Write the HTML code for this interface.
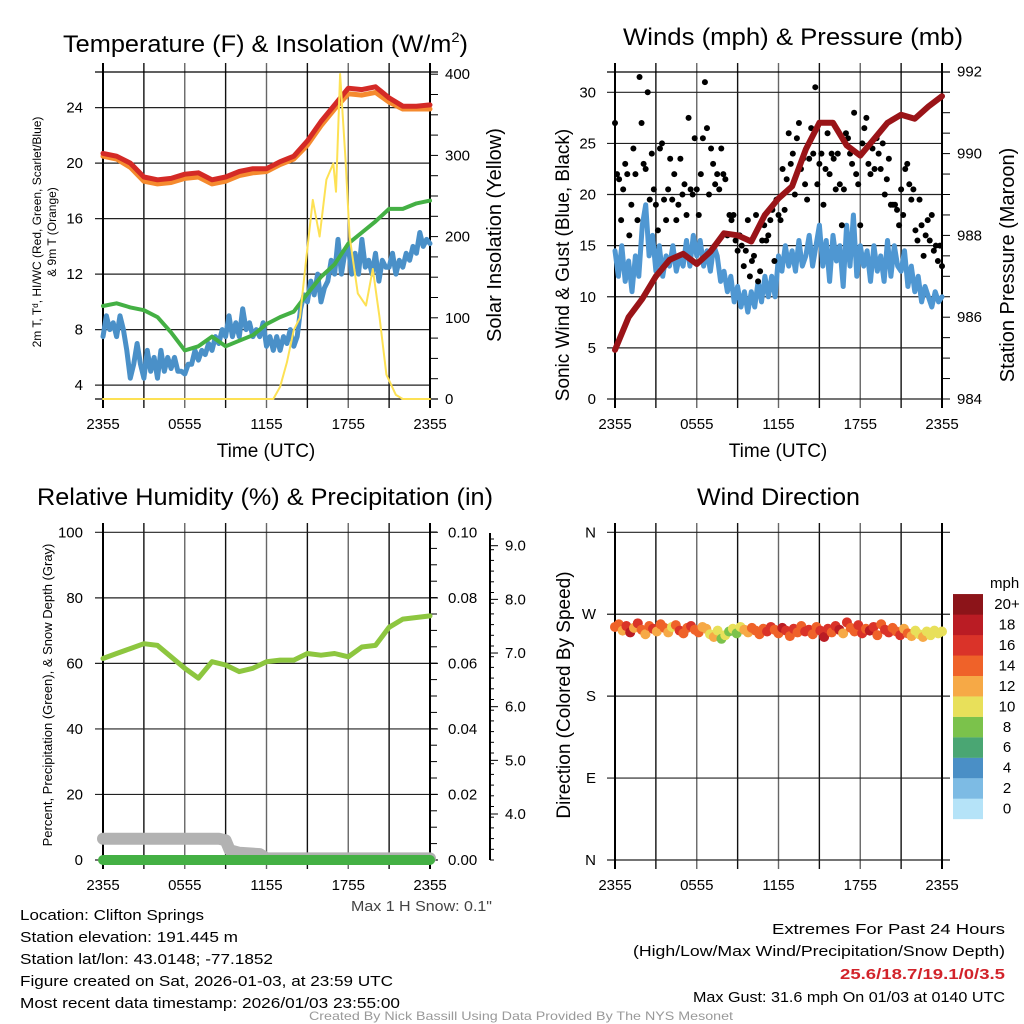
<!DOCTYPE html>
<html><head><meta charset="utf-8"><style>
html,body{margin:0;padding:0;background:#fff;}
svg{display:block;font-family:"Liberation Sans",Arial,sans-serif;}
</style></head><body>
<svg id="fig" width="1024" height="1024" viewBox="0 0 1024 1024" xmlns="http://www.w3.org/2000/svg">
<rect width="1024" height="1024" fill="#fff"/>
<g font-size="24" fill="#000">
<text x="63" y="52" textLength="405" lengthAdjust="spacingAndGlyphs">Temperature (F) &amp; Insolation (W/m<tspan font-size="14" dy="-10">2</tspan><tspan dy="10">)</tspan></text>
<text x="623" y="45" textLength="340" lengthAdjust="spacingAndGlyphs">Winds (mph) &amp; Pressure (mb)</text>
<text x="37" y="505" textLength="456" lengthAdjust="spacingAndGlyphs">Relative Humidity (%) &amp; Precipitation (in)</text>
<text x="697" y="505" textLength="163" lengthAdjust="spacingAndGlyphs">Wind Direction</text>
</g>
<g id="layer"></g>
<g font-size="15" fill="#000">
<text x="20" y="920" textLength="184" lengthAdjust="spacingAndGlyphs">Location: Clifton Springs</text>
<text x="20" y="942" textLength="218" lengthAdjust="spacingAndGlyphs">Station elevation: 191.445 m</text>
<text x="20" y="964" textLength="253" lengthAdjust="spacingAndGlyphs">Station lat/lon: 43.0148; -77.1852</text>
<text x="20" y="986" textLength="373" lengthAdjust="spacingAndGlyphs">Figure created on Sat, 2026-01-03, at 23:59 UTC</text>
<text x="20" y="1008" textLength="380" lengthAdjust="spacingAndGlyphs">Most recent data timestamp: 2026/01/03 23:55:00</text>
<text x="772" y="934" textLength="233" lengthAdjust="spacingAndGlyphs">Extremes For Past 24 Hours</text>
<text x="633" y="956" textLength="372" lengthAdjust="spacingAndGlyphs">(High/Low/Max Wind/Precipitation/Snow Depth)</text>
<text x="840" y="979" textLength="165" lengthAdjust="spacingAndGlyphs" font-weight="bold" fill="#d2232a">25.6/18.7/19.1/0/3.5</text>
<text x="693" y="1002" textLength="312" lengthAdjust="spacingAndGlyphs">Max Gust: 31.6 mph On 01/03 at 0140 UTC</text>
<text x="351" y="911" textLength="141" lengthAdjust="spacingAndGlyphs" fill="#444">Max 1 H Snow: 0.1"</text>
<text x="309" y="1020" textLength="424" lengthAdjust="spacingAndGlyphs" font-size="12" fill="#999">Created By Nick Bassill Using Data Provided By The NYS Mesonet</text>
</g>
</svg>
<script>
// ---------- data ----------
const hourT = [0,1,2,3,4,5,6,7,8,9,10,11,12,13,14,15,16,17,18,19,20,21,22,23,24];
const qT = [];
for (let i = 0; i <= 96; i++) qT.push(i * 0.25);
const tempRed = [20.7,20.5,20.0,19.0,18.8,18.9,19.2,19.3,18.8,19.0,19.4,19.6,19.6,20.1,20.5,21.6,23.0,24.2,25.4,25.3,25.5,24.7,24.1,24.1,24.2];
const temp9mOrange = [20.5,20.3,19.7,18.7,18.5,18.6,18.9,19.0,18.5,18.7,19.1,19.3,19.4,19.9,20.3,21.3,22.7,23.9,25.0,24.9,25.1,24.4,23.9,23.9,23.9];
const dewGreen = [9.7,9.9,9.6,9.4,8.9,7.8,6.5,6.8,7.5,6.8,7.2,7.6,8.4,8.9,9.3,10.6,11.8,12.7,14.2,15.0,15.8,16.7,16.7,17.1,17.3];
const windChillBlue = [7.5,9,8,8.5,7.5,9,8,6.5,4.5,5.5,7,5.5,
 4.5,6.5,5,6,4.5,6.5,5,6,5.2,6,5,5,
 4.8,5.5,5.5,6.5,5.8,6.5,6.2,7,6.5,7.5,7,8,
 7.5,9,7.5,8.5,7.5,9.5,8,8.5,7.5,8,7.5,8.5,
 6.8,7.5,6.5,7.5,6.5,7.5,7,8,6.8,7.5,9.5,10.5,
 10,11.5,10.5,12,10,11,11.5,13,12,14.5,12,13.5,
 14,12,13.5,12,14.5,12.5,13,12,13.5,11.5,13,12.5,
 12.5,13.5,12,13,12.5,13.5,13,14,13.5,15,14,14.5,14.2];
const solarT = [0,12.5,13,13.5,14,14.45,14.9,15.4,15.9,16.4,16.9,17.1,17.4,17.8,18.1,18.7,19.3,19.8,20.3,20.8,21.5,22,24];
const solarV = [0,0,15,45,85,100,170,245,200,270,290,255,400,295,200,130,115,160,100,30,5,0,0];
const windBlue = [14.5,12,15,11.5,13.5,10.5,14,12,17,19,14,16,
 12.5,15,12,14,13,15,12.5,14,13,15.5,13,16,
 14,15.5,13,14.5,12.5,15,14,11.5,12.5,10.5,12,9.5,
 11,9,10.5,8.5,10.5,9,11.5,9.5,12,10,12,10,
 14,12.5,15,13,14.5,12.5,15.5,13,14,16,13,15,
 17,13,15.5,11.5,16,13.5,15,11,17,13,18,12,
 15,13,14.5,11.5,15,12.5,14,11.5,15.5,12,15,13,
 12.5,14.5,11,13,10.5,12,9.5,11,10,9,10.5,9.5,10];
const pressure = [985.2,986.0,986.45,987.0,987.4,987.55,987.3,987.6,988.05,988.0,987.85,988.5,988.9,989.2,990.1,990.75,990.75,990.2,989.95,990.35,990.75,990.95,990.85,991.15,991.4];
const gust = [27,22,21.5,17.5,20.5,23,22,16,19,24.5,22,17.5,31.5,27,23,22.5,30,19.5,24,20.5,19,16.5,24.5,25,19.5,17.5,20.5,23.5,19.5,22,17.5,19,23.5,20,21,18,27.5,20.5,20,25.5,20.5,18,22,25.5,31,26.5,20,24.5,23,21,22,20.5,24.5,22,21.5,16,18,17.5,18,15.5,14.5,16,15,13,14.5,17.5,12,13.5,14,18,11.5,12.5,15.5,17,15.5,16,17.5,18.5,13.5,19.5,18,17.5,22.5,18.5,21.5,26,23,24,20,25.5,27,22.5,23.5,21,19.5,23.5,26.5,24,30.5,21,23,24,19,22.5,26,22,24,23.5,20.5,24,21,17,20.5,26,25.5,24,23,28,22,21,17,25,26.5,27.5,23,22,24.5,22.5,25.5,24,22.5,25,20,21.5,23.5,19,19,19,18.5,17,20.5,18,22.5,23,21,19.5,20.5,16.5,15.5,19.5,17,14,16,17.5,15.5,18,14.5,15,13.5,15,13];
const rh = [61.5,63,64.5,66,65.5,62,58.5,55.5,60.5,59.5,57.5,58.5,60.5,61,61,63,62.5,63,62,65,65.5,71,73.5,74,74.5];
const snowT = [0,8.5,9.0,9.3,10,11.5,12,24];
const snowDepth = [6.5,6.5,6.0,3.0,2.2,1.8,0.5,0.5];
const precip = [0,0];
const precipT = [0,24];
const dirDeg = [256,259,252,257,250,255,260,253,248,257,254,251,259,255,250,256,258,252,249,255,257,253,250,256,254,248,245,252,243,247,251,254,249,256,253,250,255,252,248,254,251,256,253,249,255,252,246,254,250,257,251,253,248,256,252,245,254,250,257,253,249,261,255,251,258,249,254,252,256,247,259,253,250,255,251,247,254,249,246,252,248,245,251,247,252,249,251];
const dirSpd = [14,15,13,17,19,13,16,14,12,15,16,13,15,14,12,10,15,17,14,15,16,14,15,13,12,11,12,10,9,10,9,10,8,11,12,13,14,15,14,15,17,16,15,14,18,17,15,16,14,15,16,17,14,15,16,18,17,15,16,18,13,16,15,14,17,16,15,19,17,15,14,16,17,15,14,17,13,14,12,11,10,12,11,10,11,10,11];
const speedBins = ["0","2","4","6","8","10","12","14","16","18","20+"];
const speedColors = ["#b5e3f8","#7dbbe4","#4a8fc6","#4aa673","#7bc24b","#e8e05a","#f6a946","#ef6229","#da3329","#ba1c24","#8c1419"];
const tTicks = ["2355","0555","1155","1755","2355"];
// ---------- helpers ----------
const NS = "http://www.w3.org/2000/svg";
const root = document.getElementById("layer");
function mk(tag, attrs, parent) {
  const e = document.createElementNS(NS, tag);
  for (const k in attrs) e.setAttribute(k, attrs[k]);
  (parent || root).appendChild(e);
  return e;
}
function lin(d0, d1, r0, r1) { return v => r0 + (v - d0) / (d1 - d0) * (r1 - r0); }
function panel(px, top, bottom) {
  return { x: lin(0, 24, px, px + 327), top: top, bottom: bottom, left: px, right: px + 327 };
}
function grid(P, yvals, ys, ext) {
  const g = mk("g", {});
  
  
  for (let h = 3; h < 24; h += 3) {
    const l = mk("line", { x1: P.x(h), x2: P.x(h), y1: P.top - 9, y2: P.bottom + 9, stroke: h % 6 ? "#111" : "#666", "stroke-width": 1.4 }, g);
    
    
  }
  yvals.forEach(v => {
    const l = mk("line", { x1: P.left - 8, x2: P.right + ext, y1: ys(v), y2: ys(v), stroke: "#222", "stroke-width": 1.2 }, g);
    
    
  });
  [P.left, P.right].forEach(x => {
    const l = mk("line", { x1: x, x2: x, y1: P.top - 9, y2: P.bottom + 9, stroke: "#000", "stroke-width": 2 }, g);
    
    
  });
  tTicks.forEach((s, i) => {
    const t = mk("text", { x: P.x(i * 6), y: P.bottom + 30, "text-anchor": "middle", "font-size": 15 }, g);
    t.textContent = s;
    
    
  });
}
function yLabels(vals, ys, x, anchor, fmt, name) {
  vals.forEach(v => {
    const t = mk("text", { x: x, y: ys(v) + 5, "text-anchor": anchor, "font-size": 15 });
    t.textContent = fmt(v);
    
    
  });
}
function minor(x, y0, y1, step, len) {
  for (let y = y0; y >= y1; y -= step) {
    const l = mk("line", { x1: x, x2: x + len, y1: y, y2: y, stroke: "#000", "stroke-width": 1 });
    
    
  }
}
function series(P, ys, ts, vs, color, w, name) {
  const pts = ts.map((t, i) => P.x(t).toFixed(1) + "," + ys(vs[i]).toFixed(1)).join(" ");
  const p = mk("polyline", { points: pts, fill: "none", stroke: color, "stroke-width": w, "stroke-linejoin": "round", "stroke-linecap": "round" });
  
  
}
function vtext(x, y, s, size, name) {
  const t = mk("text", { x: 0, y: 0, transform: `translate(${x},${y}) rotate(-90)`, "text-anchor": "middle", "font-size": size });
  t.textContent = s;
  
  
  return t;
}
function htext(x, y, s, size, name) {
  const t = mk("text", { x: x, y: y, "text-anchor": "middle", "font-size": size });
  t.textContent = s;
  
  
}
// ---------- panel 1: temperature ----------
const P1 = panel(103, 72, 399);
const yT = lin(3, 27, 399, 66);
const yS = lin(0, 400, 399, 74);
grid(P1, [4, 8, 12, 16, 20, 24], yT, 0);
mk("line", { x1: 95, x2: 438, y1: 72, y2: 72, stroke: "#000", "stroke-width": 1.2 });
mk("line", { x1: 95, x2: 438, y1: 399, y2: 399, stroke: "#000", "stroke-width": 1.2 });
yLabels([4, 8, 12, 16, 20, 24], yT, 83, "end", v => v, "temp-tick-label");
yLabels([0, 100, 200, 300, 400], yS, 445, "start", v => v, "solar-tick-label");
minor(430, 399, 72, 20.3, 8);
series(P1, yT, qT, windChillBlue, "#4a90c8", 5, "windchill-line");
series(P1, yT, hourT, dewGreen, "#44b044", 4, "dewpoint-line");
series(P1, yT, hourT, temp9mOrange, "#f58a2e", 5, "temp-9m-line");
series(P1, yT, hourT, tempRed, "#d42a26", 5, "temp-2m-line");
series(P1, yS, solarT, solarV, "#fde154", 2, "solar-line");
htext(266, 457, "Time (UTC)", 19, "x-axis-title");
vtext(41, 232, "2m T, T\u1D48, HI/WC (Red, Green, Scarlet/Blue)", 12, "temp-y-axis-title");
vtext(56, 232, "& 9m T (Orange)", 12, "temp-y-axis-title-line2");
vtext(501, 235, "Solar Insolation (Yellow)", 20, "solar-y-axis-title");
// ---------- panel 2: winds ----------
const P2 = panel(615, 72, 399);
const yW = lin(0, 30, 399, 92.3);
const yP = lin(984, 992, 399, 71.7);
grid(P2, [0, 5, 10, 15, 20, 25, 30], yW, 0);
mk("line", { x1: 607, x2: 950, y1: 72, y2: 72, stroke: "#000", "stroke-width": 1.2 });
yLabels([0, 5, 10, 15, 20, 25, 30], yW, 596, "end", v => v, "wind-tick-label");
yLabels([984, 986, 988, 990, 992], yP, 957, "start", v => v, "pressure-tick-label");
minor(942, 399, 72, 20.45, 8);
series(P2, yW, qT, windBlue, "#4f97d2", 5, "wind-speed-line");
gust.forEach((g, i) => {
  const t = i * 24 / (gust.length - 1);
  const c = mk("circle", { cx: P2.x(t), cy: yW(g), r: 3, fill: "#000" });
  
  
});
series(P2, yP, hourT, pressure, "#9a1418", 6, "pressure-line");
htext(778, 457, "Time (UTC)", 19, "x-axis-title");
vtext(569, 265, "Sonic Wind & Gust (Blue, Black)", 19, "wind-y-axis-title");
vtext(1014, 265, "Station Pressure (Maroon)", 20, "pressure-y-axis-title");
// ---------- panel 3: RH ----------
const P3 = panel(103, 532, 860);
const yR = lin(0, 100, 860, 532.3);
const ySn = lin(4, 9, 814, 545.7);
grid(P3, [0, 20, 40, 60, 80, 100], yR, 8);
yLabels([0, 20, 40, 60, 80, 100], yR, 83, "end", v => v, "rh-tick-label");
yLabels([0, 20, 40, 60, 80, 100], yR, 448, "start", v => (v / 1000).toFixed(2), "precip-tick-label");
minor(430, 860, 532, 16.4, 7);
mk("line", { x1: 490, x2: 490, y1: 533, y2: 860, stroke: "#000", "stroke-width": 2 });
[4, 5, 6, 7, 8, 9].forEach(v => {
  const t = mk("text", { x: 505, y: ySn(v) + 5, "font-size": 15 });
  t.textContent = v.toFixed(1);
  
  
  mk("line", { x1: 490, x2: 498, y1: ySn(v), y2: ySn(v), stroke: "#000" });
});
minor(490, 860, 533, 10.7, 4);
series(P3, yR, snowT, snowDepth, "#b2b2b2", 12, "snow-depth-line");
series(P3, yR, precipT, precip, "#44b044", 10, "precip-line");
series(P3, yR, hourT, rh, "#8dc63f", 5, "rh-line");
vtext(52, 695, "Percent, Precipitation (Green), & Snow Depth (Gray)", 13, "rh-y-axis-title");
// ---------- panel 4: wind direction ----------
const P4 = panel(615, 532, 860);
const yD = lin(0, 360, 860, 532.3);
grid(P4, [0, 90, 180, 270, 360], yD, 8);
const dirLab = ["N", "E", "S", "W", "N"];
[0, 90, 180, 270, 360].forEach((v, i) => {
  const t = mk("text", { x: 596, y: yD(v) + 5, "text-anchor": "end", "font-size": 15 });
  t.textContent = dirLab[i];
  
  
});
function spdColor(s) { return speedColors[Math.min(10, Math.floor(s / 2))]; }
dirDeg.forEach((d, i) => {
  const t = i * 24 / (dirDeg.length - 1);
  const c = mk("circle", { cx: P4.x(t), cy: yD(d), r: 5, fill: spdColor(dirSpd[i]) });
  
  
});
vtext(570, 695, "Direction (Colored By Speed)", 19, "direction-y-axis-title");
const cb = mk("g", {});


speedColors.forEach((c, i) => {
  const y = 819 - (i + 1) * 20.45;
  const r = mk("rect", { x: 953, y: y, width: 30, height: 20.6, fill: c }, cb);
  
  
  const t = mk("text", { x: 1007, y: y + 15, "text-anchor": "middle", "font-size": 15 }, cb);
  t.textContent = speedBins[i];
  
  
});
const mph = mk("text", { x: 990, y: 588, "font-size": 15 }, cb);
mph.textContent = "mph";


</script>
</body></html>
